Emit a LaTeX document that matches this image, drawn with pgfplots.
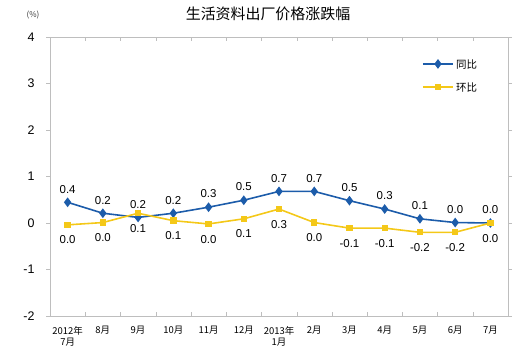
\documentclass[border=0pt]{standalone}
\usepackage{pgfplots}
\pgfplotsset{compat=1.18}
\usepackage{fontspec}
\setmainfont{Liberation Sans}
\newfontfamily\cjk{Noto Sans CJK SC}
\definecolor{tbblue}{RGB}{28,92,170}
\definecolor{tbyellow}{RGB}{244,200,24}
\definecolor{axgray}{RGB}{190,190,190}
\begin{document}
\begin{tikzpicture}[x=1bp,y=1bp]
\useasboundingbox (0,0) rectangle (528,360);
\node[font=\cjk\fontsize{15}{17}\selectfont] at (268,346) {生活资料出厂价格涨跌幅};
\node[font=\cjk\fontsize{8}{9}\selectfont, text=black!80] at (33,345) {(\%)};
\begin{axis}[
  at={(50bp,44bp)}, anchor=south west,
  scale only axis, width=458bp, height=279bp,
  xmin=-0.5, xmax=12.5, ymin=-2, ymax=4,
  ytick={-2,-1,0,1,2,3,4},
  xtick={0,...,12},
  xticklabels={{2012年\\7月},8月,9月,10月,11月,12月,{2013年\\1月},2月,3月,4月,5月,6月,7月},
  xticklabel style={font=\cjk\fontsize{9.5}{11}\selectfont, align=center, anchor=north, yshift=-7bp},
  major x tick style={draw=none},
  minor xtick={-0.5,0.5,...,12.5},
  minor tick length=4bp,
  minor x tick style={axgray},
  tick align=inside,
  y tick style={axgray},
  ytick align=outside, major tick length=4bp,
  yticklabel style={font=\fontsize{12.5}{14}\selectfont, xshift=-8bp},
  /pgf/number format/assume math mode=true,
  axis line style={axgray},
  legend style={draw=none, fill=none, at={(0.805,0.935)}, anchor=north west, font=\cjk\fontsize{10.5}{12}\selectfont, row sep=9bp},
  legend cell align=left,
  legend image code/.code={\draw[#1, line width=2.2pt] (0bp,0.5bp) -- (30bp,0.5bp); \draw[#1, only marks] plot coordinates {(15bp,0.5bp)};},
  nodes near coords={\pgfplotspointmeta},
  point meta=explicit symbolic,
  clip=false,
]
\addplot[tbblue, line width=1.6pt, mark=diamond*, mark size=3.6pt,
  nodes near coords style={font=\fontsize{11.5}{13}\selectfont, text=black, anchor=south, yshift=5bp}]
  coordinates {
  (0,0.445)[0.4] (1,0.21)[0.2] (2,0.12)[0.2] (3,0.21)[0.2] (4,0.34)[0.3] (5,0.49)[0.5]
  (6,0.68)[0.7] (7,0.68)[0.7] (8,0.48)[0.5] (9,0.30)[0.3] (10,0.09)[0.1] (11,0.01)[0.0] (12,0.0)[0.0]};
\addlegendentry{同比}
\addplot[tbyellow, line width=1.6pt, mark=square*, mark size=2.4pt,
  nodes near coords style={font=\fontsize{11.5}{13}\selectfont, text=black, anchor=north, yshift=-7bp}]
  coordinates {
  (0,-0.04)[0.0] (1,0.01)[0.0] (2,0.21)[0.1] (3,0.05)[0.1] (4,-0.02)[0.0] (5,0.09)[0.1]
  (6,0.30)[0.3] (7,0.01)[0.0] (8,-0.11)[-0.1] (9,-0.11)[-0.1] (10,-0.20)[-0.2] (11,-0.20)[-0.2] (12,0.0)[0.0]};
\addlegendentry{环比}
\end{axis}
\end{tikzpicture}
\end{document}
